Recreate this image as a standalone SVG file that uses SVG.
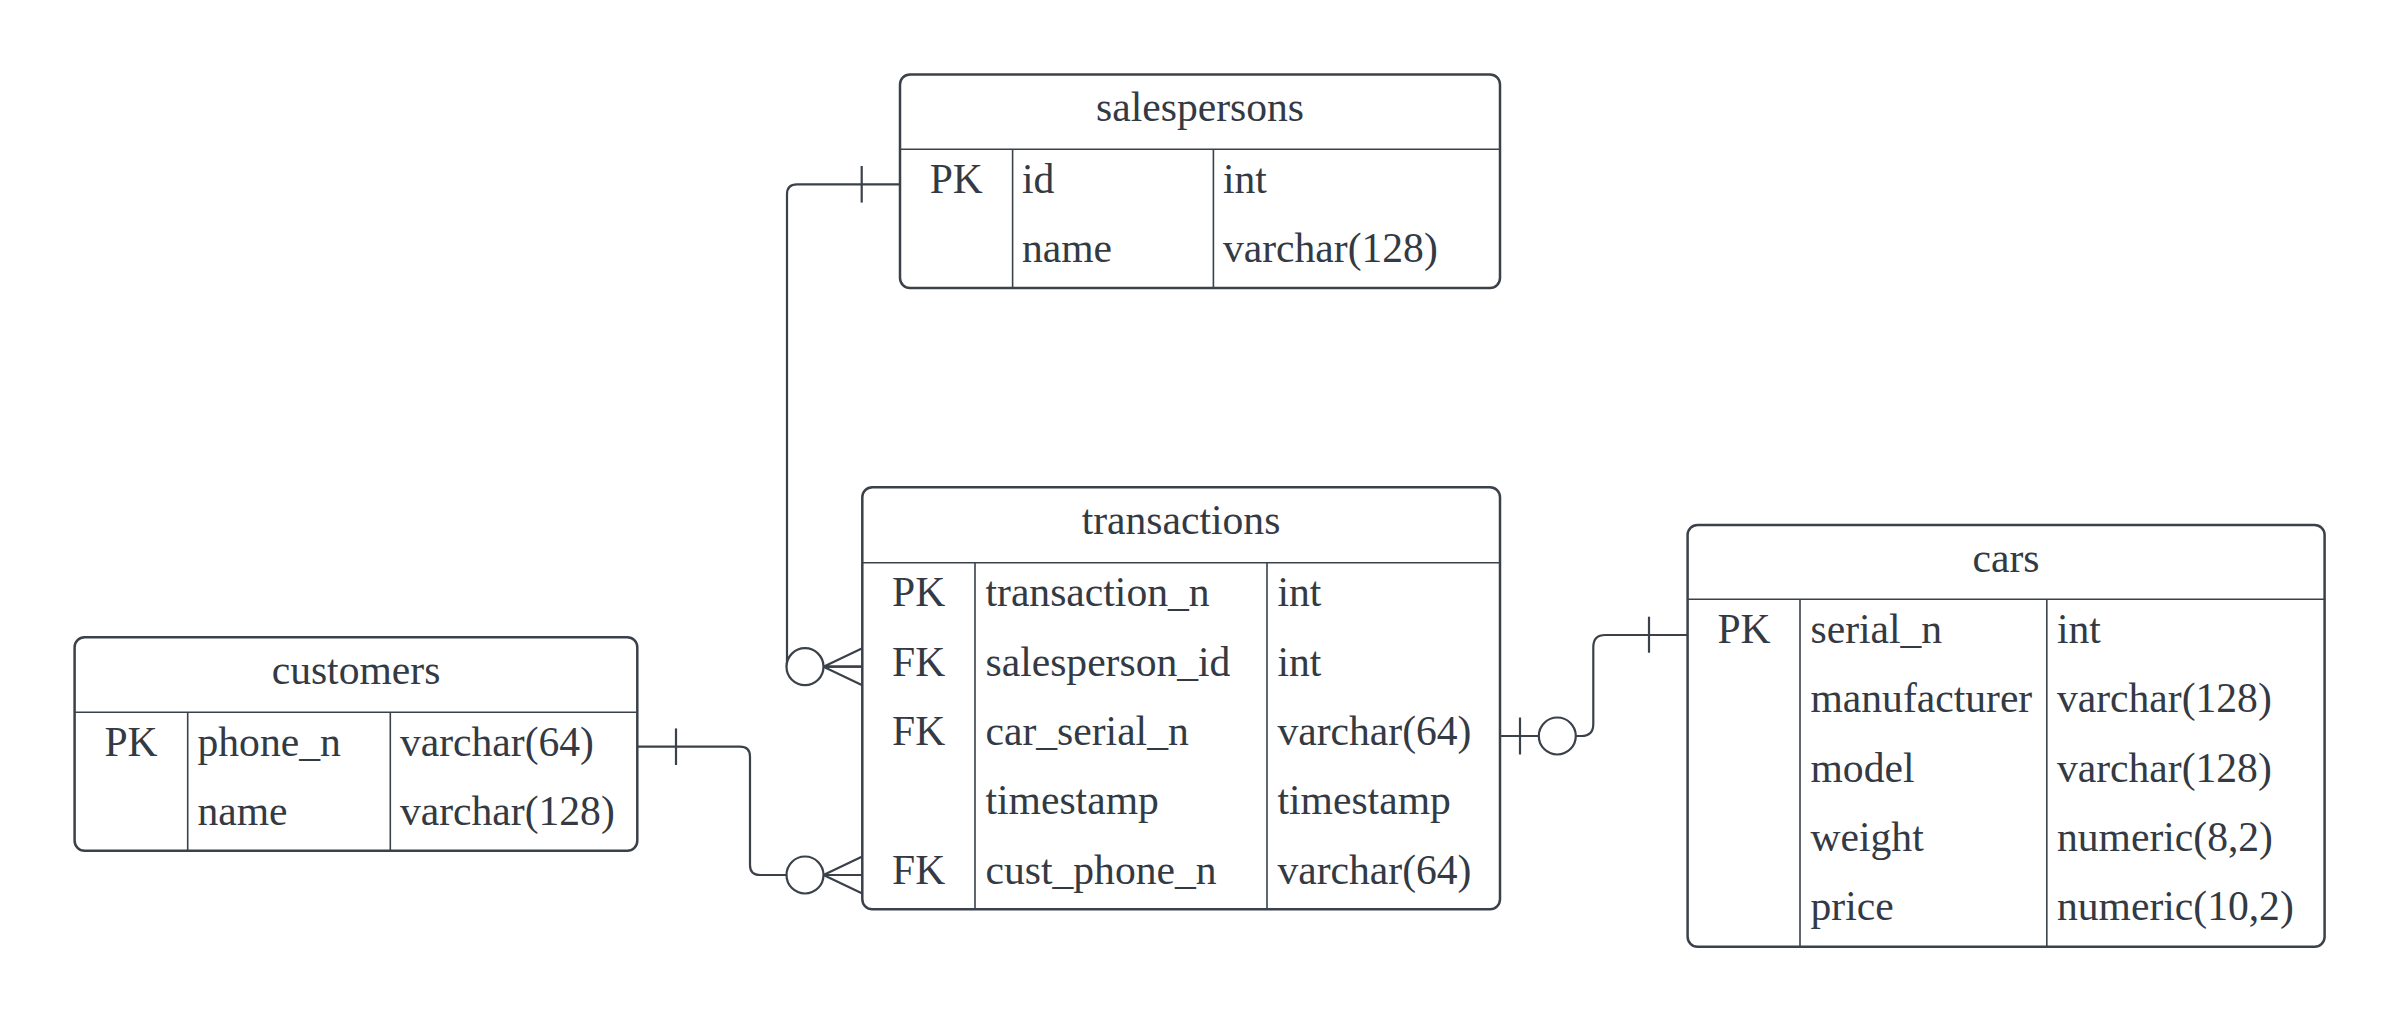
<svg xmlns="http://www.w3.org/2000/svg" width="2400" height="1022" viewBox="0 0 2400 1022">
<style>
.box{fill:#ffffff;stroke:#3a414a;stroke-width:2.5}
.div{stroke:#3a414a;stroke-width:1.6;fill:none}
text{font-family:"Liberation Serif","Times New Roman",serif;font-size:41.6px;fill:#333a44}
.c{text-anchor:middle}
.ln{fill:none;stroke:#3a414a;stroke-width:2.2}
.o{fill:#ffffff;stroke:#3a414a;stroke-width:2.2}
</style>
<rect width="2400" height="1022" fill="#ffffff"/>

<g id="salespersons">
<rect class="box" x="900" y="74.5" width="600" height="213.5" rx="10"/>
<line class="div" x1="900" y1="149.3" x2="1500" y2="149.3"/>
<line class="div" x1="1012.6" y1="149.3" x2="1012.6" y2="288"/>
<line class="div" x1="1213.4" y1="149.3" x2="1213.4" y2="288"/>
<text class="c" x="1200" y="121">salespersons</text>
<text class="c" x="956.3" y="192.8">PK</text>
<text x="1022" y="192.8">id</text>
<text x="1223" y="192.8">int</text>
<text x="1022" y="262.1">name</text>
<text x="1223" y="262.1">varchar(128)</text>
</g>

<g id="transactions">
<rect class="box" x="862.3" y="487.3" width="637.7" height="422" rx="10"/>
<line class="div" x1="862.3" y1="562.7" x2="1500" y2="562.7"/>
<line class="div" x1="975" y1="562.7" x2="975" y2="909.3"/>
<line class="div" x1="1267" y1="562.7" x2="1267" y2="909.3"/>
<text class="c" x="1181" y="534">transactions</text>
<text class="c" x="918.6" y="606.2">PK</text>
<text x="985.5" y="606.2">transaction_n</text>
<text x="1277.5" y="606.2">int</text>
<text class="c" x="918.6" y="675.5">FK</text>
<text x="985.5" y="675.5">salesperson_id</text>
<text x="1277.5" y="675.5">int</text>
<text class="c" x="918.6" y="744.8">FK</text>
<text x="985.5" y="744.8">car_serial_n</text>
<text x="1277.5" y="744.8">varchar(64)</text>
<text x="985.5" y="814.2">timestamp</text>
<text x="1277.5" y="814.2">timestamp</text>
<text class="c" x="918.6" y="883.5">FK</text>
<text x="985.5" y="883.5">cust_phone_n</text>
<text x="1277.5" y="883.5">varchar(64)</text>
</g>

<g id="customers">
<rect class="box" x="74.6" y="637.3" width="562.7" height="213.4" rx="10"/>
<line class="div" x1="74.6" y1="712.3" x2="637.3" y2="712.3"/>
<line class="div" x1="187.7" y1="712.3" x2="187.7" y2="850.7"/>
<line class="div" x1="390.3" y1="712.3" x2="390.3" y2="850.7"/>
<text class="c" x="356" y="684">customers</text>
<text class="c" x="131" y="755.8">PK</text>
<text x="197.5" y="755.8">phone_n</text>
<text x="400" y="755.8">varchar(64)</text>
<text x="197.5" y="825.2">name</text>
<text x="400" y="825.2">varchar(128)</text>
</g>

<g id="cars">
<rect class="box" x="1687.6" y="525" width="637" height="421.7" rx="10"/>
<line class="div" x1="1687.6" y1="599.3" x2="2324.6" y2="599.3"/>
<line class="div" x1="1800" y1="599.3" x2="1800" y2="946.7"/>
<line class="div" x1="2046.8" y1="599.3" x2="2046.8" y2="946.7"/>
<text class="c" x="2006" y="571.5">cars</text>
<text class="c" x="1744" y="642.8">PK</text>
<text x="1810.5" y="642.8">serial_n</text>
<text x="2057" y="642.8">int</text>
<text x="1810.5" y="712.2">manufacturer</text>
<text x="2057" y="712.2">varchar(128)</text>
<text x="1810.5" y="781.5">model</text>
<text x="2057" y="781.5">varchar(128)</text>
<text x="1810.5" y="850.8">weight</text>
<text x="2057" y="850.8">numeric(8,2)</text>
<text x="1810.5" y="920.2">price</text>
<text x="2057" y="920.2">numeric(10,2)</text>
</g>

<g id="connectors">
<g id="salespersons-transactions">
<path class="ln" d="M900 184.3 H797 Q787 184.3 787 194.3 V666.7 H862.3"/>
<path class="ln" d="M861.7 166 V202.6"/>
<circle class="o" cx="805" cy="666.7" r="18.5"/>
<path class="ln" d="M823.5 666.7 L862.3 648.2 M823.5 666.7 L862.3 685.2 M823.5 666.7 H862.3"/>
</g>
<g id="customers-transactions">
<path class="ln" d="M637.3 746.7 H740 Q750 746.7 750 756.7 V865 Q750 875 760 875 H862.3"/>
<path class="ln" d="M676 728.4 V765"/>
<circle class="o" cx="805" cy="875" r="18.5"/>
<path class="ln" d="M823.5 875 L862.3 856.5 M823.5 875 L862.3 893.5 M823.5 875 H862.3"/>
</g>
<g id="transactions-cars">
<path class="ln" d="M1500 736 H1581.3 Q1593.3 736 1593.3 724 V647 Q1593.3 635 1605.3 635 H1687.6"/>
<path class="ln" d="M1520 717.5 V754.5"/>
<circle class="o" cx="1557.3" cy="736" r="18.5"/>
<path class="ln" d="M1649 616.7 V652.7"/>
</g>
</g>
</svg>
